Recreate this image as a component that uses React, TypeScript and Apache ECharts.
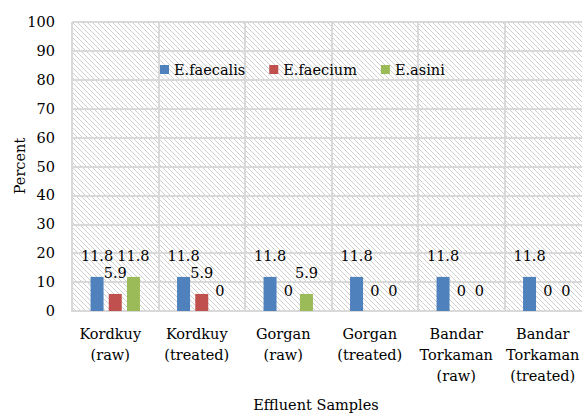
import React, { useEffect, useRef } from "react";
import * as echarts from "echarts";

const categories = [
  "Kordkuy\n(raw)",
  "Kordkuy\n(treated)",
  "Gorgan\n(raw)",
  "Gorgan\n(treated)",
  "Bandar\nTorkaman\n(raw)",
  "Bandar\nTorkaman\n(treated)",
];
const seriesNames = ["E.faecalis", "E.faecium", "E.asini"];
const faecalis = [11.8, 11.8, 11.8, 11.8, 11.8, 11.8];
const faecium = [5.9, 5.9, 0, 0, 0, 0];
const asini = [11.8, 0, 5.9, 0, 0, 0];
const colors = ["#4F81BD", "#C0504D", "#9BBB59"];
const yTitle = "Percent";
const xTitle = "Effluent Samples";

const SERIF = "DejaVu Serif";
const FS = 14.5;

function makeHatch(): HTMLCanvasElement {
  const c = document.createElement("canvas");
  const s = 5;
  c.width = s;
  c.height = s;
  const ctx = c.getContext("2d")!;
  ctx.fillStyle = "#ffffff";
  ctx.fillRect(0, 0, s, s);
  ctx.strokeStyle = "#cfcfcf";
  ctx.lineWidth = 1;
  ctx.beginPath();
  ctx.moveTo(-1, -1);
  ctx.lineTo(s + 1, s + 1);
  ctx.moveTo(-1, s - 1);
  ctx.lineTo(1, s + 1);
  ctx.moveTo(s - 1, -1);
  ctx.lineTo(s + 1, 1);
  ctx.stroke();
  return c;
}

export default function App() {
  const ref = useRef<HTMLDivElement>(null);
  useEffect(() => {
    if (!ref.current) return;
    const chart = echarts.init(ref.current, undefined, { renderer: "svg" });
    const hatch = makeHatch();
    const data = [faecalis, faecium, asini];
    chart.setOption({
      animation: false,
      backgroundColor: "#ffffff",
      textStyle: { fontFamily: SERIF },
      legend: {
        data: seriesNames,
        left: 160,
        top: 62,
        padding: 0,
        itemGap: 24,
        itemWidth: 9,
        itemHeight: 9,
        icon: "rect",
        textStyle: { fontSize: FS, fontFamily: SERIF, color: "#000" },
      },
      grid: {
        left: 72,
        right: 9,
        top: 22,
        bottom: 103,
        show: true,
        borderWidth: 0,
        backgroundColor: {
          image: hatch,
          repeat: "repeat",
          imageWidth: 5,
          imageHeight: 5,
        } as any,
      },
      xAxis: {
        type: "category",
        data: categories,
        axisLine: { show: true, lineStyle: { color: "#D9D9D9", width: 2 } },
        axisTick: { show: false },
        splitLine: { show: true, interval: 0, lineStyle: { color: "#D9D9D9", width: 2 } },
        axisLabel: {
          interval: 0,
          fontSize: FS,
          lineHeight: 21,
          margin: 12,
          color: "#000",
          fontFamily: SERIF,
          padding: [0, 10, 0, 0],
        },
      },
      yAxis: {
        type: "value",
        min: 0,
        max: 100,
        interval: 10,
        axisLine: { show: false },
        axisTick: { show: false },
        splitLine: { show: true, lineStyle: { color: "#D9D9D9", width: 2 } },
        axisLabel: { fontSize: FS, margin: 17, color: "#000", fontFamily: SERIF },
      },
      graphic: [
        {
          type: "text",
          x: 20,
          y: 166,
          rotation: Math.PI / 2,
          style: {
            text: yTitle,
            fontSize: FS,
            fontFamily: SERIF,
            fill: "#000",
            align: "center",
            verticalAlign: "middle",
          },
        },
        {
          type: "text",
          x: 316,
          y: 405,
          style: {
            text: xTitle,
            fontSize: FS,
            fontFamily: SERIF,
            fill: "#000",
            align: "center",
            verticalAlign: "middle",
          },
        },
      ],
      series: seriesNames.map((name, i) => ({
        name,
        type: "bar",
        data: data[i],
        barWidth: 13,
        barGap: "40%",
        itemStyle: { color: colors[i] },
        label: {
          show: true,
          position: "top",
          distance: 13,
          fontSize: FS,
          fontFamily: SERIF,
          color: "#000",
        },
      })),
    });
    return () => chart.dispose();
  }, []);
  return (
    <div
      ref={ref}
      style={{ position: "fixed", left: 0, top: 0, width: 600, height: 414 }}
    />
  );
}
